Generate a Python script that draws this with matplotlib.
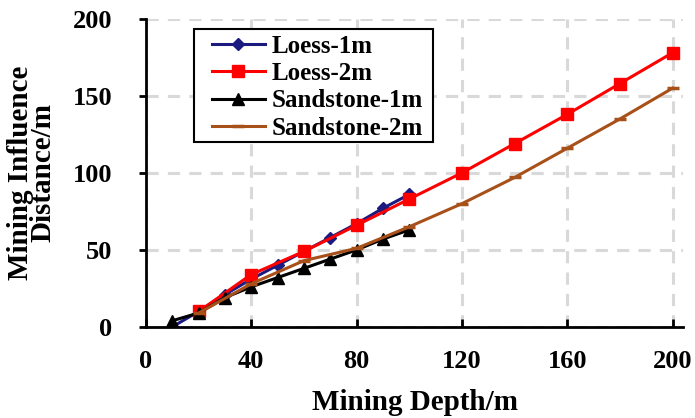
import numpy as np
import matplotlib
matplotlib.use('Agg')
import matplotlib.pyplot as plt
from matplotlib.patches import Rectangle

plt.rcParams['font.family'] = ['Liberation Serif', 'DejaVu Serif']
plt.rcParams['font.weight'] = 'bold'

# data
depth_1m = [10, 20, 30, 40, 50, 60, 70, 80, 90, 100]
depth_2m = [20, 40, 60, 80, 100, 120, 140, 160, 180, 200]
loess_1m = [0, 10, 21, 31, 40, 49, 58, 67, 77, 86]
loess_2m = [10, 34, 49, 66, 83, 100, 119, 138, 158, 178]
sand_1m = [4, 9, 19, 26, 32, 38, 44, 50, 57, 63]
sand_2m = [9, 28, 43, 51, 65, 80, 97, 116, 135, 155]

xticks = [0, 40, 80, 120, 160, 200]
yticks = [0, 50, 100, 150, 200]

fig = plt.figure(figsize=(6.95, 4.18), dpi=100)
ax = fig.add_axes([0.210, 0.218, 0.773, 0.737])

ax.plot(depth_1m, loess_1m, color='#1a1a80', lw=2.2, marker='D', ms=6.5,
        label='Loess-1m', zorder=3)
ax.plot(depth_2m, loess_2m, color='#ff0000', lw=2.2, marker='s', ms=8,
        label='Loess-2m', zorder=4)
ax.plot(depth_1m, sand_1m, color='black', lw=2.2, marker='^', ms=8,
        label='Sandstone-1m', zorder=5)
ax.plot(depth_2m, sand_2m, color='#a8501a', lw=2.2, marker='_', ms=8, mew=2.5,
        label='Sandstone-2m', zorder=6)

ax.set_xlim(0, 204)
ax.set_ylim(0, 200)
ax.set_xticks(xticks)
ax.set_yticks(yticks)

ax.grid(True, color='#d9d9d9', lw=2.2, ls=(0, (4, 3)), zorder=0)
ax.set_axisbelow(True)

for s in ['top', 'right']:
    ax.spines[s].set_visible(False)
for s in ['left', 'bottom']:
    ax.spines[s].set_linewidth(2)

ax.tick_params(axis='x', direction='in', length=6, width=2, labelsize=19, pad=17)
ax.tick_params(axis='y', direction='out', length=5, width=2, labelsize=19, pad=19)
for lab in ax.get_xticklabels() + ax.get_yticklabels():
    lab.set_fontweight('bold')

ax.set_xlabel('Mining Depth/m', fontsize=21, fontweight='bold', labelpad=11)
ax.set_ylabel('Mining Influence\nDistance/m', fontsize=21, fontweight='bold',
              labelpad=12, linespacing=0.8)

# legend frame drawn separately so the padding matches the original
ax.add_patch(Rectangle((0.089, 0.601), 0.445, 0.367, transform=ax.transAxes,
                       facecolor='white', edgecolor='black', lw=1.5, zorder=7,
                       clip_on=False))
leg = ax.legend(loc='upper left', bbox_to_anchor=(0.123, 0.948), fontsize=18,
                frameon=False, handlelength=2.1, borderpad=0,
                labelspacing=0.17, handletextpad=0.28, borderaxespad=0)
leg.set_zorder(8)
for t in leg.get_texts():
    t.set_fontweight('bold')

fig.savefig('out.png', dpi=100)
